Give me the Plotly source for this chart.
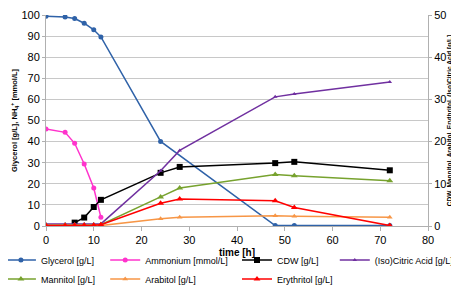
import plotly.graph_objects as go

time_h = [0, 4, 6, 8, 10, 11.5, 24, 28, 48, 52, 72]
glycerol = [99.4, 99.1, 98.3, 96.1, 93.0, 89.6, 40.1, None, 0.2, 0.2, 0.2]
ammonium = [46.0, 44.4, 39.2, 29.4, 18.0, 4.1, None, None, None, None, None]
cdw = [None, None, 0.8, 2.0, 4.5, 6.2, 12.6, 14.0, 14.9, 15.2, 13.2]
citric = [0.5, 0.5, 0.5, 0.5, 0.5, 0.5, 13.1, 17.9, 30.6, 31.3, 34.1]
mannitol = [0.2, 0.2, 0.2, 0.2, 0.2, 0.3, 6.9, 9.0, 12.2, 11.9, 10.7]
arabitol = [0.1, 0.1, 0.1, 0.1, 0.1, 0.1, 1.7, 2.1, 2.4, 2.3, 2.1]
erythritol = [0.1, 0.1, 0.2, 0.2, 0.2, 0.3, 5.4, 6.4, 6.0, 4.4, 0.1]

x_ticks = [0, 10, 20, 30, 40, 50, 60, 70, 80]

# name, values, axis, color, symbol, size, legend column
series = [
    ("Glycerol [g/L]", glycerol, "y", "#2f62a8", "circle", 5, "legend"),
    ("Ammonium [mmol/L]", ammonium, "y", "#ff33cc", "circle", 5, "legend2"),
    ("CDW [g/L]", cdw, "y2", "#000000", "square", 6, "legend3"),
    ("(Iso)Citric Acid [g/L]", citric, "y2", "#7030a0", "triangle-up", 4, "legend4"),
    ("Mannitol [g/L]", mannitol, "y2", "#77a22e", "triangle-up", 6, "legend"),
    ("Arabitol [g/L]", arabitol, "y2", "#f79646", "triangle-up", 5, "legend2"),
    ("Erythritol [g/L]", erythritol, "y2", "#ff0000", "triangle-up", 6, "legend3"),
]

fig = go.Figure()
for name, vals, ax, color, sym, size, lg in series:
    fig.add_trace(go.Scatter(
        x=time_h, y=vals, name=name, yaxis=ax, mode="lines+markers",
        connectgaps=True, legend=lg,
        line=dict(color=color, width=1.5),
        marker=dict(color=color, symbol=sym, size=size),
    ))

font = "Liberation Sans, Arial, sans-serif"


def legend_at(xfrac):
    return dict(
        orientation="v", x=xfrac, y=-0.093, xanchor="left", yanchor="top",
        font=dict(size=9), itemwidth=30, tracegroupgap=0,
        bgcolor="rgba(0,0,0,0)", borderwidth=0,
    )


fig.update_layout(
    width=459, height=285,
    margin=dict(l=38, r=39, t=7, b=67, autoexpand=False),
    paper_bgcolor="white", plot_bgcolor="white",
    font=dict(family=font, size=11, color="#000000"),
    showlegend=True,
    legend=legend_at(-0.118),
    legend2=legend_at(0.155),
    legend3=legend_at(0.5),
    legend4=legend_at(0.756),
    xaxis=dict(
        range=[0, 80], tickvals=x_ticks, showgrid=False, zeroline=False,
        showline=True, linecolor="#b0b0b0", linewidth=1,
        ticks="outside", ticklen=4, tickcolor="#b0b0b0", automargin=False,
        title=dict(text="<b>time [h]</b>", font=dict(size=10), standoff=3),
    ),
    yaxis=dict(
        range=[0, 100], dtick=10, showgrid=True, gridcolor="#c8c8c8", gridwidth=1,
        zeroline=False, showline=True, linecolor="#b0b0b0", linewidth=1,
        ticks="outside", ticklen=3, tickcolor="#b0b0b0", automargin=False,
        title=dict(text="<b>Glycerol [g/L], NH<sub>4</sub><sup>+</sup> [mmol/L]</b>",
                   font=dict(size=7.5), standoff=2),
    ),
    yaxis2=dict(
        range=[0, 50], dtick=10, overlaying="y", side="right", showgrid=False,
        zeroline=False, showline=True, linecolor="#b0b0b0", linewidth=1,
        ticks="outside", ticklen=3, tickcolor="#b0b0b0", automargin=False,
        title=dict(text="<b>CDW, Mannitol, Arabitol, Erythritol, (Iso)Citric Acid [g/L]</b>",
                   font=dict(size=6.5), standoff=0),
    ),
)

fig.write_html("out.html")
